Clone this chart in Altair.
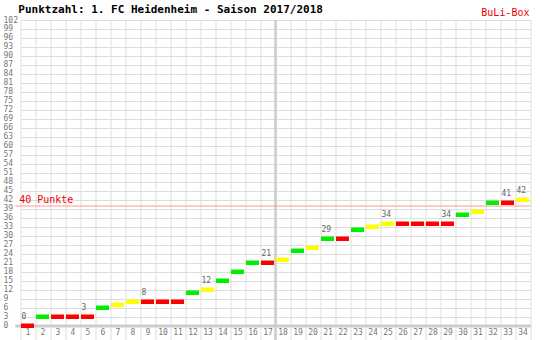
import altair as alt
import pandas as pd

matchdays = list(range(1, 35))
points = [0, 3, 3, 3, 3, 6, 7, 8, 8, 8, 8, 11, 12, 15, 18, 21, 21, 22, 25, 26,
          29, 29, 32, 33, 34, 34, 34, 34, 34, 37, 38, 41, 41, 42]
results = ["N", "S", "N", "N", "N", "S", "U", "U", "N", "N", "N", "S", "U", "S", "S", "S", "N",
           "U", "S", "U", "S", "N", "S", "U", "U", "N", "N", "N", "N", "S", "U", "S", "N", "U"]
label_days = [1, 5, 9, 13, 17, 21, 25, 29, 33, 34]
y_ticks = list(range(0, 103, 3))
x_grid = list(range(0, 35))

FONT = "DejaVu Sans Mono"
df = pd.DataFrame({"md": matchdays, "pts": points, "res": results})
df["start"] = df["md"] - 1
df["mid"] = df["md"] - 0.5
df["lab"] = df["md"].isin(label_days)

xs = alt.Scale(domain=[0, 34], nice=False, zero=False)
ys = alt.Scale(domain=[-4.667, 102], nice=False, zero=False)

AX = alt.Axis(values=x_grid, grid=True, labels=False, ticks=False, domain=False,
              gridColor="#dddddd", gridWidth=1, title=None)
AY = alt.Axis(values=y_ticks, grid=True, ticks=False, domain=False,
              gridColor="#dddddd", gridWidth=1, labelAlign="left",
              labelPadding=17.5, labelFont=FONT, labelFontSize=8,
              labelColor="#777777", labelBaseline="middle", title=None)


def X(f):
    return alt.X(f, scale=xs, axis=AX)


def Y(f):
    return alt.Y(f, scale=ys, axis=AY)


base = alt.Chart(df)

bars = base.mark_rect(xOffset=0.5, x2Offset=-1.5, yOffset=-2.5, y2Offset=2).encode(
    x=X("start:Q"),
    x2="md:Q",
    y=Y("pts:Q"),
    y2="pts:Q",
    color=alt.Color("res:N", scale=alt.Scale(domain=["S", "U", "N"],
                                             range=["#00ee00", "#ffff00", "#ff0000"]),
                    legend=None),
)

ref = pd.DataFrame({"x0": [-0.35], "x1": [34], "v": [40], "z": [0], "half": [17],
                    "yb": [-4.667], "yt": [102]})
refc = alt.Chart(ref)

zero_line = refc.mark_rule(color="#cccccc", strokeWidth=3).encode(
    x=X("x0:Q"), x2="x1:Q", y=Y("z:Q"))
half_line = refc.mark_rule(color="#cccccc", strokeWidth=2.5).encode(
    x=X("half:Q"), y=Y("yb:Q"), y2="yt:Q")
forty_line = refc.mark_rule(color="#ff9999", strokeWidth=1.2).encode(
    x=X("x0:Q"), x2="x1:Q", y=Y("v:Q"))
forty_text = refc.mark_text(text="40 Punkte", font=FONT, fontSize=10, color="#ee0000",
                            align="left", baseline="alphabetic", dx=-1.3, dy=-3).encode(
    x=X("z:Q"), y=Y("v:Q"))

xlabels = base.mark_text(font=FONT, fontSize=8, color="#777777", baseline="middle").encode(
    x=X("mid:Q"), y=alt.value(312.5), text="md:Q")

vlabels = base.transform_filter("datum.lab").mark_text(
    font=FONT, fontSize=8, color="#666666", align="left", baseline="middle", dx=1, dy=-9
).encode(x=X("start:Q"), y=Y("pts:Q"), text="pts:Q")

buli = refc.mark_text(text="BuLi-Box", font=FONT, fontSize=10, color="#ee0000",
                      align="right", baseline="alphabetic").encode(
    x=alt.value(509), y=alt.value(-4))

title = refc.mark_text(text="Punktzahl: 1. FC Heidenheim - Saison 2017/2018", font=FONT,
                       fontSize=11, fontWeight="bold", color="#000000",
                       align="left", baseline="alphabetic").encode(
    x=alt.value(-2.2), y=alt.value(-6.7))

chart = alt.layer(zero_line, half_line, forty_line, bars, forty_text, xlabels, vlabels,
                  buli, title).properties(
    width=510, height=320,
    padding={"left": 20.5, "top": 20, "right": 20.5, "bottom": 0},
    autosize=alt.AutoSizeParams(type="none"),
).configure_view(stroke=None)

chart.save("out.html", embed_options={"renderer": "svg", "actions": False})
